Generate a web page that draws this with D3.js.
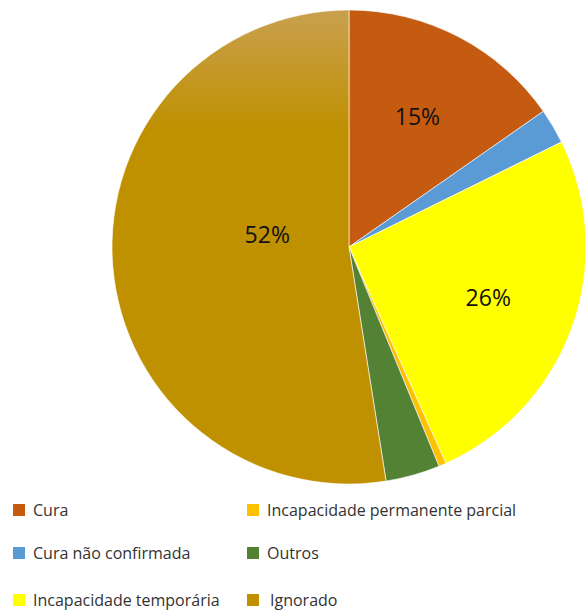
<!DOCTYPE html>
<html>
<head>
<meta charset="utf-8">
<script src="https://cdn.jsdelivr.net/npm/d3@7"></script>
<style>
  body { margin: 0; background: #fff; }
  text { font-family: "Open Sans", sans-serif; }
</style>
</head>
<body>
<div id="chart"></div>
<script>
var categories = ["Cura", "Cura não confirmada", "Incapacidade temporária",
  "Incapacidade permanente parcial", "Outros", "Ignorado"];
var values = [15.3, 2.4, 25.6, 0.5, 3.7, 52.5];
var labels = ["15%", "", "26%", "", "", "52%"];
var colors = ["#c55a11", "#5b9bd5", "#ffff00", "#ffc000", "#548235", "#bf9000"];

// legend order: column-major, 3 rows x 2 columns
var legendOrder = [0, 1, 2, 3, 4, 5];

let svg = d3.select('#chart').append('svg')
  .attr('width', 585)
  .attr('height', 610);

let cx = 349, cy = 247, r = 237;

// light sheen at the top of the big slice
let defs = svg.append('defs');
let grad = defs.append('linearGradient').attr('id', 'ign')
  .attr('gradientUnits', 'userSpaceOnUse')
  .attr('x1', 0).attr('y1', -r).attr('x2', 0).attr('y2', -r + 120);
grad.append('stop').attr('offset', 0).attr('stop-color', '#c9a04f');
grad.append('stop').attr('offset', 0.5).attr('stop-color', '#c49828');
grad.append('stop').attr('offset', 1).attr('stop-color', '#bf9000');

let pie = d3.pie().sort(null).value((d)=> d);
let arcs = pie(values);
let arc = d3.arc().innerRadius(0).outerRadius(r);

let g = svg.append('g').attr('transform', `translate(${cx}, ${cy})`);

g.selectAll('path').data(arcs).enter()
  .append('path')
  .attr('d', arc)
  .attr('fill', (d, i)=> i === 5 ? 'url(#ign)' : colors[i])
  .attr('stroke', '#fff')
  .attr('stroke-width', 0.6);

// slice labels
g.selectAll('.lbl').data(arcs).enter()
  .append('text')
  .attr('class', 'lbl')
  .attr('transform', (d)=> {
    let lr = d.data > 50 ? 82 : 148;
    let c = d3.arc().innerRadius(lr).outerRadius(lr).centroid(d);
    return `translate(${c[0]}, ${c[1]})`;
  })
  .attr('text-anchor', 'middle')
  .attr('dy', (d)=> d.data > 50 ? '-0.45em' : '0.4em')
  .attr('font-size', 23)
  .attr('fill', '#111')
  .text((d, i)=> labels[i]);

// legend
let legend = svg.append('g').attr('class', 'legend');
let item = legend.selectAll('g').data(legendOrder).enter()
  .append('g')
  .attr('transform', (d, k)=> {
    let col = Math.floor(k / 3), row = k % 3;
    return `translate(${col === 0 ? 13 : 247}, ${[510, 553, 600][row]})`;
  });
item.append('rect')
  .attr('x', 0).attr('y', -6)
  .attr('width', 12).attr('height', 12)
  .attr('fill', (d)=> colors[d]);
item.append('text')
  .attr('x', (d)=> d === 5 ? 23 : 20)
  .attr('dy', '0.35em')
  .attr('font-size', 16)
  .attr('fill', '#333')
  .text((d)=> categories[d]);
</script>
</body>
</html>
